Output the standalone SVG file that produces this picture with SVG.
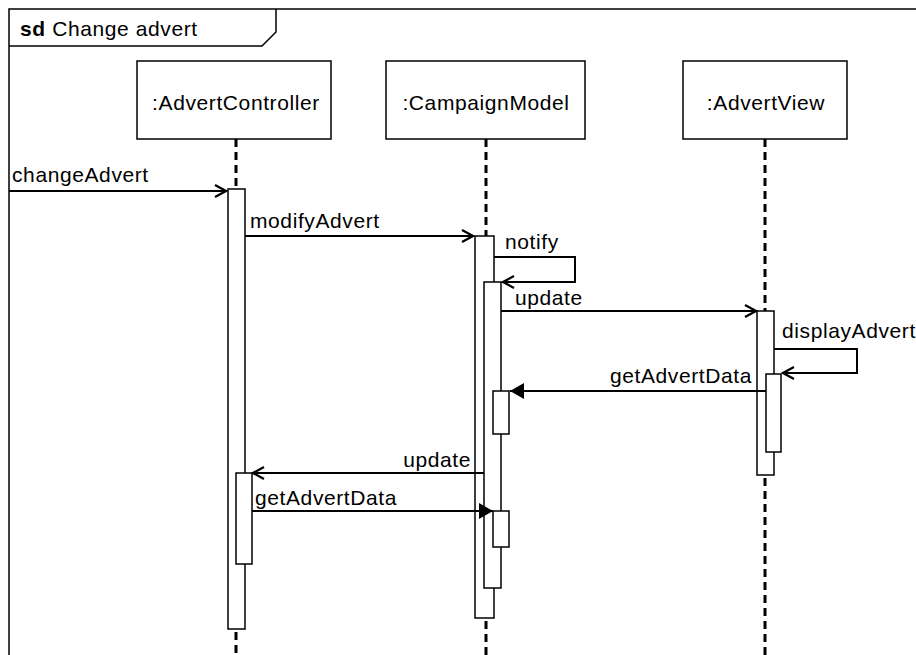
<svg xmlns="http://www.w3.org/2000/svg" width="916" height="655" viewBox="0 0 916 655">
<defs>
<style>
text{font-family:"Liberation Sans",Arial,sans-serif;font-size:21px;letter-spacing:0.6px;fill:#000}
.box{fill:#fff;stroke:#000;stroke-width:1.5}
.act{fill:#fff;stroke:#000;stroke-width:1.5}
.life{stroke:#000;stroke-width:3;stroke-dasharray:8,5;fill:none}
.msg{stroke:#000;stroke-width:2;fill:none}
</style>
<marker id="open" markerWidth="14" markerHeight="14" refX="12" refY="7" orient="auto" markerUnits="userSpaceOnUse">
<path d="M1,1 L12,7 L1,13" fill="none" stroke="#000" stroke-width="2.2"/>
</marker>
<marker id="filled" markerWidth="16" markerHeight="18" refX="15" refY="9" orient="auto" markerUnits="userSpaceOnUse">
<path d="M1,1 L15,9 L1,17 Z" fill="#000"/>
</marker>
</defs>
<rect width="916" height="655" fill="#fff"/>
<g id="frame">
<path d="M9,660 L9,9 L920,9" fill="none" stroke="#000" stroke-width="1.5"/>
<path d="M9,46 L262,46 L276,32 L276,9" fill="none" stroke="#000" stroke-width="1.5"/>
<text x="20" y="36"><tspan font-weight="bold">sd</tspan> Change advert</text>
</g>
<g id="lifelines">
<path class="life" d="M236,139 V189 M236,632 V655"/>
<path class="life" d="M486,139 V236 M486,621 V655"/>
<path class="life" d="M765,139 V311 M765,478 V655"/>
</g>
<g id="AdvertController">
<rect class="box" x="137" y="61" width="194" height="78"/>
<text x="236" y="110" text-anchor="middle">:AdvertController</text>
<rect class="act" x="228" y="189" width="17" height="440"/>
<rect class="act" x="236" y="473" width="16" height="91"/>
</g>
<g id="CampaignModel">
<rect class="box" x="386" y="61" width="199" height="78"/>
<text x="486" y="110" text-anchor="middle">:CampaignModel</text>
<rect class="act" x="475" y="236" width="19" height="382"/>
<rect class="act" x="484" y="282" width="17" height="306"/>
<rect class="act" x="493" y="391" width="16" height="43"/>
<rect class="act" x="493" y="511" width="16" height="36"/>
</g>
<g id="AdvertView">
<rect class="box" x="683" y="61" width="164" height="78"/>
<text x="766" y="110" text-anchor="middle">:AdvertView</text>
<rect class="act" x="757" y="311" width="17" height="164"/>
<rect class="act" x="766" y="374" width="15" height="78"/>
</g>
<g id="connectors">
<path class="msg" d="M9,191 H226" marker-end="url(#open)"/>
<text x="12" y="182">changeAdvert</text>
<path class="msg" d="M245,236 H473" marker-end="url(#open)"/>
<text x="250" y="228">modifyAdvert</text>
<path class="msg" d="M494,257 H575 V282 H503" marker-end="url(#open)"/>
<text x="505" y="249">notify</text>
<path class="msg" d="M501,311 H756" marker-end="url(#open)"/>
<text x="515" y="305">update</text>
<path class="msg" d="M774,349 H857 V373 H783" marker-end="url(#open)"/>
<text x="782" y="338">displayAdvert</text>
<path class="msg" d="M766,391 H510" marker-end="url(#filled)"/>
<text x="752" y="383" text-anchor="end">getAdvertData</text>
<path class="msg" d="M484,473 H253" marker-end="url(#open)"/>
<text x="471" y="467" text-anchor="end">update</text>
<path class="msg" d="M252,511 H493" marker-end="url(#filled)"/>
<text x="255" y="505">getAdvertData</text>
</g>
</svg>
